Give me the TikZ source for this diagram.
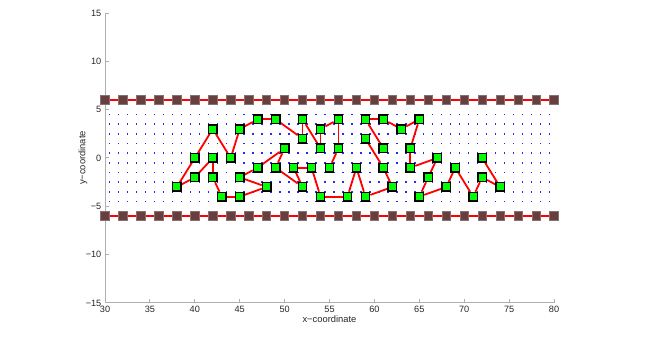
\documentclass[tikz,border=0pt]{standalone}
\usepackage{fontspec}
\setmainfont{Liberation Sans}
\usetikzlibrary{backgrounds}
\definecolor{mgreen}{RGB}{0,255,0}
\definecolor{wbrown}{RGB}{104,62,62}
\definecolor{wedge}{RGB}{135,112,112}
\definecolor{dotblue}{RGB}{40,40,255}
\definecolor{axgray}{RGB}{175,175,175}
\begin{document}
\begin{tikzpicture}[x=8.98bp,y=9.66bp,
  gsq/.style={shape=rectangle, draw=black, fill=mgreen, line width=1.4bp, minimum size=8.4bp, inner sep=0pt},
  wsq/.style={shape=rectangle, draw=wedge, fill=wbrown, line width=0.7bp, minimum size=8.4bp, inner sep=0pt},
  link/.style={red, line width=1.8bp},
  wline/.style={red, line width=1.6bp},
  axisline/.style={axgray, line width=1bp},
  ticklab/.style={font=\fontsize{9.2}{10}\selectfont, text=black!85, inner sep=0pt},
  axlab/.style={font=\fontsize{9.4}{10}\selectfont, text=black!85, inner sep=0pt},
]
\useasboundingbox (18.307,-19.255) rectangle (91.136,16.356);

% walls
\foreach \i in {0,...,25}{
  \pgfmathtruncatemacro{\xx}{30+2*\i}
  \node[wsq] (wt\i) at (\xx,6) {};
  \node[wsq] (wb\i) at (\xx,-6) {};
}

% chain nodes
\foreach \n/\x/\y in {
 p38m3/38/-3, p40p0/40/0, p40m2/40/-2, p42p3/42/3, p42p0/42/0, p42m2/42/-2,
 p43m4/43/-4, p44p0/44/0, p45p3/45/3, p45m2/45/-2, p45m4/45/-4, p47p4/47/4,
 p47m1/47/-1, p48m3/48/-3, p49p4/49/4, p49m1/49/-1, p50p1/50/1, p51m1/51/-1,
 p52p4/52/4, p52p2/52/2, p52m3/52/-3, p53m1/53/-1, p54p3/54/3, p54p1/54/1,
 p54m4/54/-4, p55m1/55/-1, p56p4/56/4, p56p1/56/1, p57m4/57/-4, p58m1/58/-1,
 p59p4/59/4, p59p2/59/2, p59m4/59/-4, p61p4/61/4, p61p1/61/1, p61m1/61/-1,
 p62m3/62/-3, p63p3/63/3, p64p1/64/1, p64m1/64/-1, p65p4/65/4, p65m4/65/-4,
 p66m2/66/-2, p67p0/67/0, p68m3/68/-3, p69m1/69/-1, p71m4/71/-4, p72p0/72/0,
 p72m2/72/-2, p74m3/74/-3}
  \node[gsq] (\n) at (\x,\y) {};

\begin{pgfonlayer}{background}
  % axes
  \draw[axisline] (30,-15) -- (30,15);
  \draw[axisline] (30,-15) -- (80,-15);
  \foreach \v/\t in {-15/−15,-10/−10,-5/−5,0/0,5/5,10/10,15/15}{
    \draw[axisline] (30,\v) -- ++(4bp,0);
    \node[ticklab, anchor=east] (yl\v) at ([xshift=-3.5bp]30,\v) {\t};
  }
  \foreach \v in {30,35,...,80}{
    \draw[axisline] (\v,-15) -- ++(0,4bp);
    \node[ticklab, anchor=north] (xl\v) at ([yshift=-3.5bp]\v,-15) {\v};
  }
  \node[axlab] (xlab) at (55,-16.7) {x−coordinate};
  \node[axlab, rotate=90] (ylab) at (27.55,0) {y−coordinate};

  % lattice dots
  \foreach \i in {0,...,49}{
    \foreach \j in {0,...,9}{
      \fill[dotblue] (30.5+\i,-4.5+\j) ++(-0.7bp,-0.7bp) rectangle ++(1.4bp,1.4bp);
    }
  }

  % wall lines
  \foreach \i [evaluate=\i as \k using int(\i+1)] in {0,...,24}{
    \draw[wline] (wt\i) -- (wt\k);
    \draw[wline] (wb\i) -- (wb\k);
  }

  % chain links
  \foreach \a/\b in {
   p55m1/p56p1, p56p1/p56p4, p56p4/p54p3, p54p3/p54p1, p54p1/p52p4, p52p4/p52p2,
   p52p2/p49p4, p49p4/p47p4, p47p4/p45p3, p45p3/p44p0, p44p0/p42p3, p42p3/p40p0,
   p40p0/p38m3, p38m3/p40m2, p40m2/p42p0, p42p0/p42m2, p42m2/p43m4, p43m4/p45m4,
   p45m4/p48m3, p48m3/p45m2, p45m2/p47m1, p47m1/p50p1, p50p1/p49m1, p49m1/p52m3,
   p52m3/p51m1, p51m1/p53m1, p53m1/p54m4, p54m4/p57m4, p57m4/p58m1, p58m1/p59m4,
   p59m4/p62m3, p62m3/p61m1, p61m1/p59p2,
   p61p1/p59p4, p59p4/p61p4, p61p4/p63p3, p63p3/p65p4, p65p4/p64p1, p64p1/p64m1,
   p64m1/p67p0, p67p0/p66m2, p66m2/p65m4, p65m4/p68m3, p68m3/p69m1, p69m1/p71m4,
   p71m4/p72m2, p72m2/p74m3, p74m3/p72p0}
    \draw[link] (\a) -- (\b);
\end{pgfonlayer}
\end{tikzpicture}
\end{document}
